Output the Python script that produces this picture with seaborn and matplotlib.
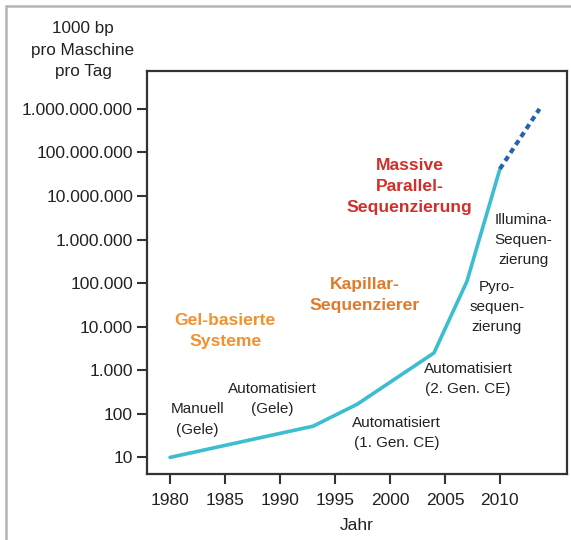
import matplotlib
matplotlib.use("Agg")
import matplotlib.pyplot as plt
from matplotlib.lines import Line2D
import seaborn as sns
import pandas as pd

# Throughput of sequencing machines (1000 bp per machine per day)
years = [1980, 1993, 1997, 2004, 2007, 2010]
throughput = [10, 52, 165, 2500, 110000, 42000000]
proj_years = [2010, 2013.6]
proj_throughput = [42000000, 1000000000]

ytick_vals = [10, 100, 1000, 10000, 100000, 1000000, 10000000, 100000000, 1000000000]
ytick_labels = ["10", "100", "1.000", "10.000", "100.000", "1.000.000",
                "10.000.000", "100.000.000", "1.000.000.000"]
xtick_vals = [1980, 1985, 1990, 1995, 2000, 2005, 2010]

sns.set_style("white")
plt.rcParams["font.family"] = ["Liberation Sans", "DejaVu Sans"]

W, H = 571, 540
fig = plt.figure(figsize=(W / 100, H / 100), dpi=100)
ax = fig.add_axes([147 / W, 1 - 473.5 / H, (567 - 147) / W, (473.5 - 71) / H])

df = pd.DataFrame({"Jahr": years, "Wert": throughput})
dfp = pd.DataFrame({"Jahr": proj_years, "Wert": proj_throughput})
sns.lineplot(data=df, x="Jahr", y="Wert", ax=ax, color="#3cbdd0", lw=2.6,
             solid_capstyle="round")
sns.lineplot(data=dfp, x="Jahr", y="Wert", ax=ax, color="#2765ab", lw=3.0)
ax.lines[-1].set_linestyle((0, (1.3, 1.0)))

ax.set_yscale("log")
ax.set_xlim(1977.9, 2016.1)
ax.set_ylim(10 ** 0.63, 10 ** 9.87)
ax.set_yticks(ytick_vals)
ax.set_yticklabels(ytick_labels)
ax.minorticks_off()
ax.set_xticks(xtick_vals)
ax.set_xticklabels([str(v) for v in xtick_vals])
ax.tick_params(axis="both", which="major", direction="out", length=7, width=1.5,
               color="#333333", labelsize=12.5, labelcolor="#222222",
               left=True, bottom=True)
ax.tick_params(axis="x", pad=7)
ax.tick_params(axis="y", pad=3)
for s in ax.spines.values():
    s.set_color("#333333")
    s.set_linewidth(1.6)

ax.set_xlabel("Jahr", fontsize=12.5, color="#222222", labelpad=7)
ax.set_ylabel("")

fig.text(83 / W, 1 - 50 / H, "1000 bp\npro Maschine\npro Tag", ha="center",
         va="center", fontsize=12.3, color="#222222", linespacing=1.55)

def label(x, y, s, color="#222222", bold=False, size=11.0, spacing=1.55):
    ax.text(x, y, s, ha="center", va="center", fontsize=size, color=color,
            fontweight="bold" if bold else "normal", linespacing=spacing)

label(1982.5, 74, "Manuell\n(Gele)")
label(1989.3, 214, "Automatisiert\n(Gele)")
label(2000.6, 37, "Automatisiert\n(1. Gen. CE)")
label(2007.1, 620, "Automatisiert\n(2. Gen. CE)")
label(2009.7, 29000, "Pyro-\nsequen-\nzierung")
label(2012.1, 1000000, "Illumina-\nSequen-\nzierung")
label(1985.0, 7900, "Gel-basierte\nSysteme", color="#f0922f", bold=True,
      size=12.6, spacing=1.5)
label(1997.7, 53000, "Kapillar-\nSequenzierer", color="#e07a2b", bold=True,
      size=12.6, spacing=1.5)
label(2001.8, 16600000, "Massive\nParallel-\nSequenzierung", color="#d0302b",
      bold=True, size=12.6, spacing=1.5)

# thin gray frame along the left and top of the figure
fig.add_artist(Line2D([6 / W, 6 / W], [0, 1 - 6 / H], transform=fig.transFigure,
                      color="#b5b5b5", lw=1.8))
fig.add_artist(Line2D([6 / W, 1], [1 - 6 / H, 1 - 6 / H], transform=fig.transFigure,
                      color="#b5b5b5", lw=1.8))

fig.savefig("out.png", dpi=100)
